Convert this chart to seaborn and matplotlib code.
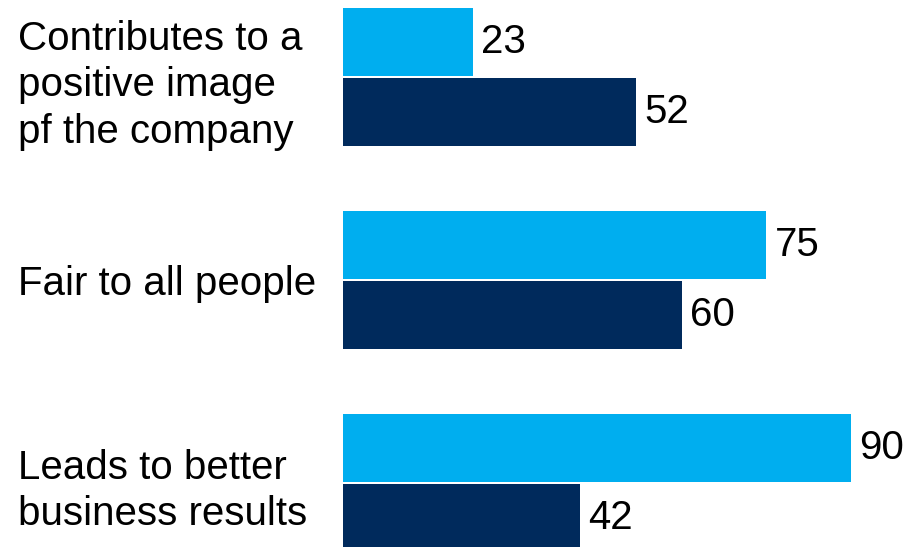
import matplotlib
matplotlib.use("Agg")
import matplotlib.pyplot as plt
import seaborn as sns
import pandas as pd

categories = [
    "Contributes to a\npositive image\npf the company",
    "Fair to all people",
    "Leads to better\nbusiness results",
]
series_names = ["Series 1", "Series 2"]
series_1 = [23, 75, 90]
series_2 = [52, 60, 42]
colors = ["#00AEEF", "#002A5C"]

df = pd.DataFrame({
    "category": categories * 2,
    "series": [series_names[0]] * 3 + [series_names[1]] * 3,
    "value": series_1 + series_2,
})

sns.set_theme(style="white")
plt.rcParams["font.family"] = ["Liberation Sans", "DejaVu Sans"]

fig = plt.figure(figsize=(9.09, 5.47), dpi=100)
ax = fig.add_axes([343 / 909, 0, 1 - 343 / 909, 1])

sns.barplot(
    data=df, y="category", x="value", hue="series", orient="h",
    palette=colors, saturation=1, width=0.69, gap=0.03, edgecolor="none",
    legend=False, ax=ax,
)

ax.set_xlim(0, 100.3)
ax.set_ylim(2.315, -0.379)

for container in ax.containers:
    ax.bar_label(container, padding=6, fontsize=29, color="black")

ax.set_xlabel("")
ax.set_ylabel("")
ax.set_xticks([])
ax.tick_params(axis="y", length=0, pad=(343 - 18) * 72 / 100,
               labelsize=29, labelcolor="black")
for lbl in ax.get_yticklabels():
    lbl.set_horizontalalignment("left")
    lbl.set_linespacing(1.28)
for spine in ax.spines.values():
    spine.set_visible(False)

fig.savefig("out.png", dpi=100, facecolor="white")
